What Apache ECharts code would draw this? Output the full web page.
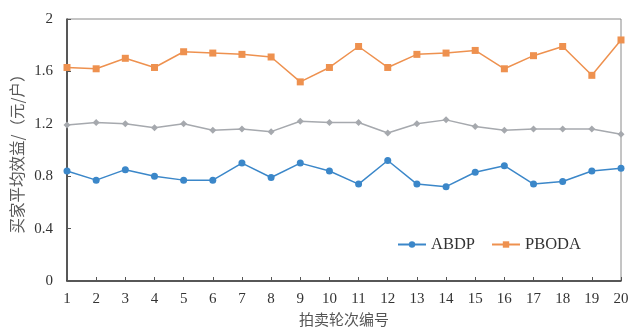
<!DOCTYPE html>
<html>
<head>
<meta charset="utf-8">
<script src="https://cdn.jsdelivr.net/npm/echarts@6/dist/echarts.min.js"></script>
<style>
  html, body { margin: 0; padding: 0; background: #fff; }
  #chart { width: 628px; height: 329px; }
</style>
</head>
<body>
<div id="chart"></div>
<script>
// Auction rounds 1..20
const rounds = ['1','2','3','4','5','6','7','8','9','10','11','12','13','14','15','16','17','18','19','20'];
const yTicks = [0, 0.4, 0.8, 1.2, 1.6, 2];
const yTitle = '买家平均效益/（元/户）';

// Average buyer benefit per round (yuan / household)
const abdp  = [0.84, 0.77, 0.85, 0.80, 0.77, 0.77, 0.90, 0.79, 0.90, 0.84,
               0.74, 0.92, 0.74, 0.72, 0.83, 0.88, 0.74, 0.76, 0.84, 0.86];
const pboda = [1.63, 1.62, 1.70, 1.63, 1.75, 1.74, 1.73, 1.71, 1.52, 1.63,
               1.79, 1.63, 1.73, 1.74, 1.76, 1.62, 1.72, 1.79, 1.57, 1.84];
const third = [1.19, 1.21, 1.20, 1.17, 1.20, 1.15, 1.16, 1.14, 1.22, 1.21,
               1.21, 1.13, 1.20, 1.23, 1.18, 1.15, 1.16, 1.16, 1.16, 1.12];

const serif = '"Liberation Serif", "Times New Roman", serif';
const cjk = '"Noto Sans CJK SC", sans-serif';

const chart = echarts.init(document.getElementById('chart'));
chart.setOption({
  animation: false,
  backgroundColor: '#fff',
  grid: { left: 67, right: 7, top: 19, bottom: 48, outerBoundsMode: 'none',
          show: true, borderColor: '#8a8a8a', borderWidth: 1 },
  legend: {
    left: 392, top: 231, itemGap: 16, itemWidth: 28, itemHeight: 8,
    data: ['ABDP', 'PBODA'],
    textStyle: { fontFamily: serif, fontSize: 16.5, color: '#333' }
  },
  // rotated y-axis title, centred on the plot height
  graphic: [{
    type: 'text', x: 17, y: 150, rotation: Math.PI / 2,
    style: { text: yTitle, fontFamily: cjk, fontSize: 15.5, fill: '#595959',
             align: 'center', verticalAlign: 'middle' }
  }],
  xAxis: {
    type: 'category', data: rounds, boundaryGap: false,
    name: '拍卖轮次编号', nameLocation: 'middle', nameGap: 30,
    nameTextStyle: { fontFamily: cjk, fontSize: 15, color: '#555' },
    axisLine: { lineStyle: { color: '#333', width: 1.5 } },
    axisTick: { inside: true, length: 4, lineStyle: { color: '#555' } },
    axisLabel: { fontFamily: serif, fontSize: 15, color: '#333', margin: 11, interval: 0 },
    splitLine: { show: false }
  },
  yAxis: {
    type: 'value', min: yTicks[0], max: yTicks[yTicks.length - 1], interval: 0.4,
    axisLine: { show: true, lineStyle: { color: '#333', width: 1.5 } },
    axisTick: { show: true, inside: true, length: 4, lineStyle: { color: '#555' } },
    axisLabel: { fontFamily: serif, fontSize: 15, color: '#333', margin: 14,
                 formatter: v => String(Math.round(v * 10) / 10) },
    splitLine: { show: false }
  },
  series: [
    { name: 'ABDP', type: 'line', data: abdp, symbol: 'circle', symbolSize: 7,
      itemStyle: { color: '#3b87c9' }, lineStyle: { color: '#3b87c9', width: 1.5 } },
    { name: 'PBODA', type: 'line', data: pboda, symbol: 'rect', symbolSize: 7,
      itemStyle: { color: '#ee914f' }, lineStyle: { color: '#ee914f', width: 1.5 } },
    { name: 'third', type: 'line', data: third, symbol: 'diamond', symbolSize: 7,
      itemStyle: { color: '#a6a9ae' }, lineStyle: { color: '#a6a9ae', width: 1.5 } }
  ]
});
</script>
</body>
</html>
